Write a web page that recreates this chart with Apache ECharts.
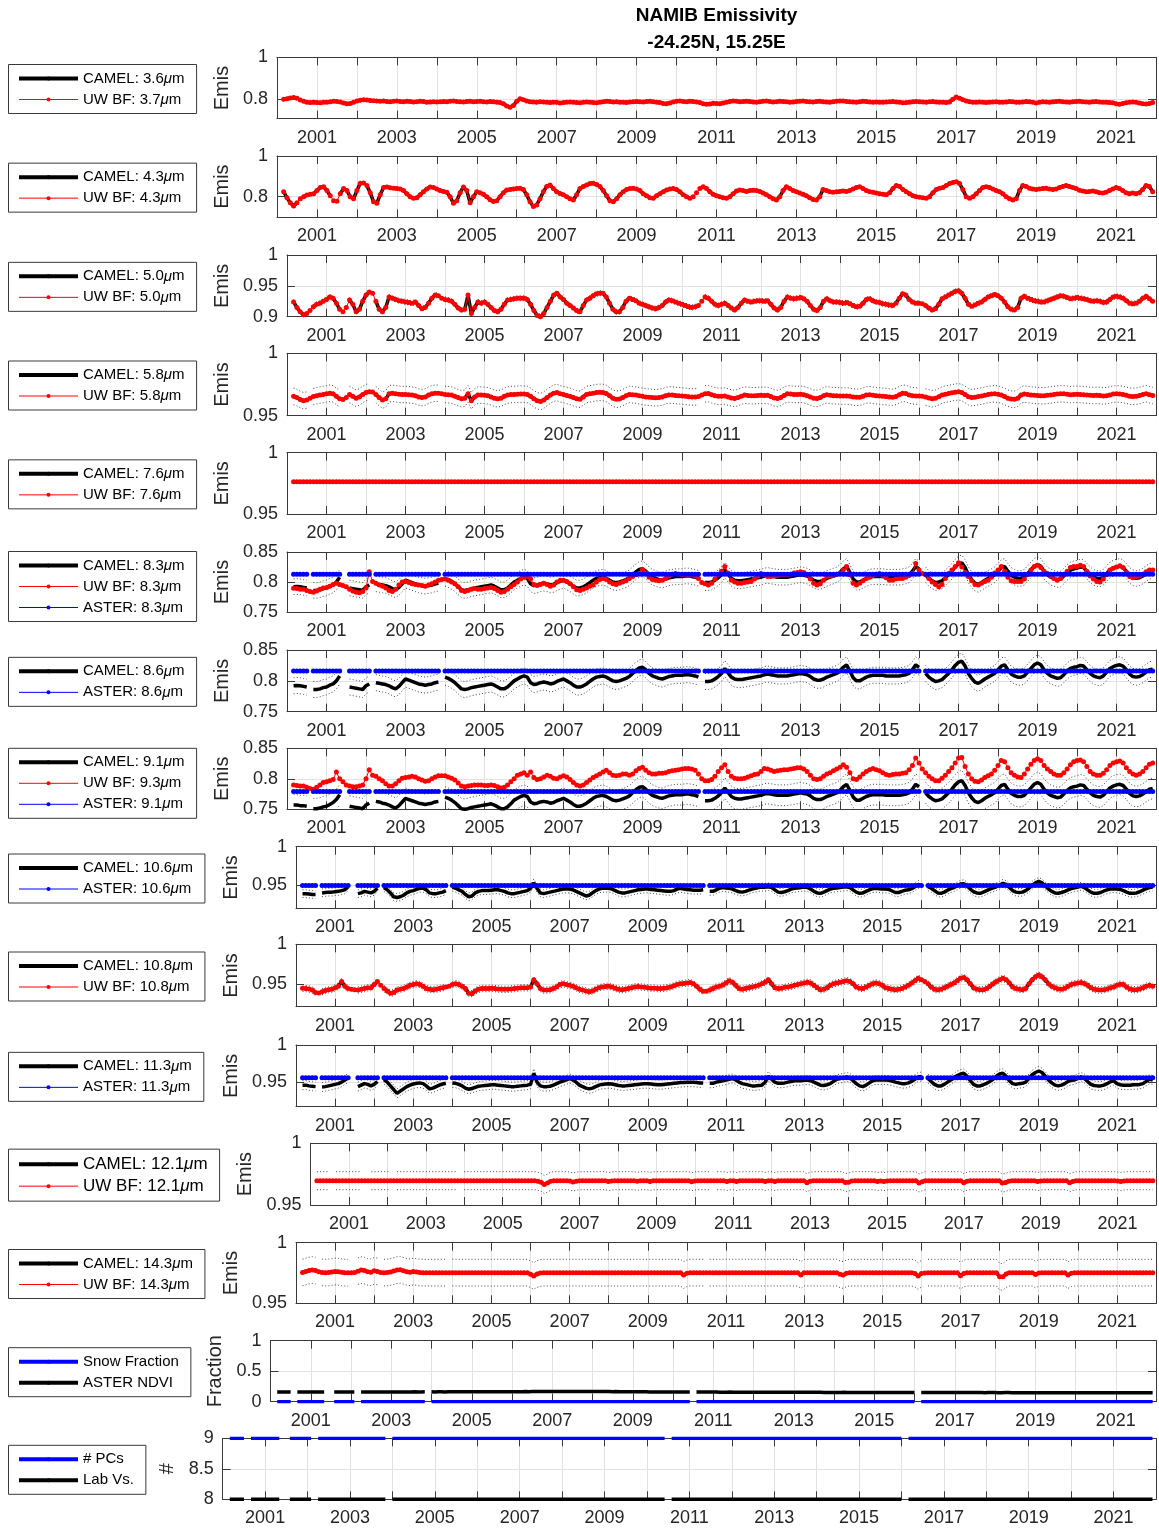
<!DOCTYPE html>
<html><head><meta charset="utf-8">
<script src="https://cdn.jsdelivr.net/npm/echarts@6/dist/echarts.min.js"></script>
<style>html,body{margin:0;padding:0;background:#fff}#c{width:1159px;height:1530px}</style>
</head><body><div id="c"></div><script>
// ---------------- DATA ----------------
// monthly time base: Mar 2000 .. Dec 2021
const firstYear = 2000, firstMonth = 3, monthCount = 262;
const missingMonths = ['2000-08','2001-06','2001-07','2002-03','2003-12','2010-07','2016-02'];
const yearLabels = [2001,2003,2005,2007,2009,2011,2013,2015,2017,2019,2021];
const yTicks = [[0.8,1],[0.8,1],[0.9,0.95,1],[0.95,1],[0.95,1],[0.75,0.8,0.85],[0.75,0.8,0.85],[0.75,0.8,0.85],
  [0.95,1],[0.95,1],[0.95,1],[0.95,1],[0.95,1],[0,0.5,1],[8,8.5,9]];
const yRanges = [[0.707,1],[0.699,1],[0.9,1],[0.95,1],[0.95,1],[0.75,0.85],[0.75,0.85],[0.75,0.85],
  [0.92,1],[0.921,1],[0.917,1],[0.95,1],[0.95,1],[0,1],[8,9]];

// emissivity values in thousandths, one row per year
const uw37 = [
800,802,806,808,804,796,790,786,784,785,
784,783,785,786,788,790,789,787,782,778,780,786,
792,795,797,796,794,793,792,790,791,789,788,790,
791,789,788,790,789,787,788,790,789,786,787,788,
787,788,789,788,790,791,789,788,787,789,790,788,
789,790,788,787,789,788,786,784,778,768,762,770,
790,802,798,792,788,787,786,788,787,785,784,786,
785,782,784,786,787,785,784,783,785,787,786,784,
783,786,788,790,789,787,788,786,785,784,787,788,
789,788,787,789,790,788,786,784,780,778,782,787,
790,791,789,788,790,789,787,784,778,776,777,781,
779,778,782,786,789,791,790,788,789,790,789,787,
786,788,790,791,789,787,788,790,789,788,786,787,
789,790,791,789,788,787,789,790,788,787,786,788,
790,792,791,789,788,787,786,788,790,789,787,786,
787,786,785,787,788,789,787,785,783,784,786,788,
789,788,787,786,788,789,787,786,785,784,787,800,
810,805,798,792,788,786,785,787,786,784,785,787,
788,786,785,787,789,788,786,785,787,789,788,786,
782,786,788,787,786,788,789,790,788,787,786,788,
789,790,788,787,786,788,789,787,786,785,784,783,
778,776,779,783,786,787,785,782,778,777,780,784];
const uw43 = [
825,795,770,755,770,790,800,808,812,815,
830,845,849,830,805,780,778,815,840,830,800,790,
830,866,868,855,820,775,768,810,845,848,844,842,
841,838,830,815,800,792,795,810,825,838,848,845,
838,830,826,822,800,768,780,820,848,830,770,800,
825,820,812,800,785,776,780,800,820,833,836,838,
840,842,835,810,775,752,760,790,825,850,857,840,
825,816,810,800,790,784,810,841,850,858,865,866,
860,850,830,805,780,775,790,810,825,835,841,842,
838,830,815,805,795,792,805,815,825,833,838,841,
835,825,810,800,792,800,820,840,849,840,825,812,
805,800,795,792,800,815,828,833,830,826,830,832,
830,826,818,810,800,790,784,800,830,849,840,830,
825,818,812,805,795,786,784,800,835,830,825,822,
825,826,828,826,830,838,845,849,840,830,825,822,
818,815,812,810,820,840,855,850,835,825,815,805,
800,798,795,792,800,820,835,842,845,855,865,870,
874,865,835,800,792,800,815,830,845,849,845,838,
830,825,815,800,790,784,790,830,855,850,842,838,
835,838,840,842,838,835,838,845,850,855,850,845,
840,832,828,825,826,828,825,820,818,822,830,838,
845,840,830,820,815,818,815,820,835,855,850,825];
const uw50 = [
924,915,908,903,905,910,916,920,922,925,
928,932,930,922,912,908,915,927,920,908,912,925,
935,940,938,925,912,908,915,932,930,928,926,925,
924,923,922,924,918,913,915,922,930,935,934,930,
928,927,925,920,914,911,912,935,905,915,924,922,
924,920,915,910,908,912,920,927,928,929,930,930,
930,928,920,910,902,900,905,915,925,935,938,932,
928,922,918,914,910,908,918,927,930,934,937,938,
938,932,922,912,908,908,915,925,930,928,926,922,
920,918,916,914,913,915,918,924,927,926,924,922,
920,918,916,915,916,918,925,932,930,925,920,918,
920,922,918,914,911,915,922,927,925,924,925,926,
926,925,926,920,914,911,915,925,932,930,929,930,
931,929,925,918,912,910,915,925,929,926,924,924,
923,922,923,921,918,916,917,922,928,929,926,924,
923,921,920,919,918,922,930,937,935,928,924,922,
922,921,918,914,911,913,920,929,932,935,938,941,
942,938,930,920,917,919,922,924,928,932,934,936,
934,930,924,916,912,911,915,930,933,930,928,926,
925,924,924,926,928,930,932,934,933,931,929,930,
931,930,929,928,926,925,926,925,923,924,928,932,
933,932,930,926,922,921,922,925,930,933,929,925];
const uw58 = [
965.5,964.5,963,962,962.5,964,965.3,966,966.5,967,
967.5,968,967.5,965.5,963.5,963,964.5,967,965.5,964,965,967,
968.5,969.2,969,967,964.5,962.5,963.5,967.5,968,967.5,967.2,967,
967,966.8,966.5,966,965,964.5,965,966.5,967.5,968,968,967.5,
967,966.8,966.5,965.5,964.5,963.5,964,967.5,962,965,966.5,966.5,
966.3,966,965,964,963.5,964,965.5,966.5,967,967,967.2,967.3,
967.3,967,965.5,963.5,962,961.3,962.5,964.5,966.5,968,968.6,967.5,
967,966.2,965.5,964.5,963.5,963.2,965,967,967.5,968,968.5,968.7,
968.6,967.8,966,964,963.2,963.3,964.5,966,967,966.8,966.5,966,
965.5,965,964.8,964.5,964.3,964.6,965,966,966.6,966.5,966.2,966,
965.8,965.5,965.2,965,965,965.3,966.5,967.5,967.7,966.8,966,965.5,
965.5,965.7,965,964.2,963.8,964.5,965.6,966.5,966.2,966,966,966.2,
966.3,966.2,966.3,965.4,964.2,963.8,964.6,966.2,967.5,967.3,967,967,
967.2,966.8,966,965,964,963.8,964.5,966,966.8,966.3,966,966,
965.8,965.7,965.8,965.5,965,964.7,964.8,965.6,966.6,966.8,966.3,966,
965.8,965.5,965.3,965,964.7,965.4,966.8,968,967.8,966.6,966,965.7,
965.7,965.5,965,964.2,963.6,964,965.2,966.6,967.2,967.8,968.3,968.8,
969.2,968.5,967,965.2,964.5,964.8,965.3,965.7,966.4,967,967.3,967.6,
967.2,966.5,965.4,964,963.3,963.2,964,966.6,967.4,967,966.6,966.3,
966.2,966,966,966.3,966.6,967,967.3,967.6,967.5,967.2,966.8,967,
967.2,967,966.8,966.6,966.3,966.2,966.3,966.2,965.8,966,966.6,967.3,
967.5,967.3,967,966.3,965.6,965.4,965.6,966.2,967,967.6,966.8,966.2];
const uw83 = [
789.5,789,788,788,786,784,783,785,788,790,
791,793,796,798,796,794,792,788,785,783,782,784,
790,817,801,798,795,793,790,786,784,788,795,800,
801,799,797,796,795,794,793,795,797,800,803,804,
805,803,800,797,792,786,784,786,788,789,788,788,
789,790,791,789,786,783,784,788,792,796,800,805,
808,809,805,796,794,796,798,796,793,795,800,803,
803,801,797,792,787,786,788,790,793,795,800,804,
806,804,800,797,796,798,800,802,806,809,812,814,
821,815,808,804,803,802,803,806,810,813,814,813,
812,812,811,812,810,806,799,797,795,798,805,812,
818,826,815,803,800,798,798,799,800,801,805,810,
814,812,809,809,810,811,812,812,812,813,815,816,
817,816,812,805,798,795,797,803,809,810,811,813,
814,820,826,812,798,795,798,802,806,808,811,813,
814,811,807,803,803,805,806,806,808,811,814,831,
820,814,812,806,800,796,792,796,806,814,820,826,
832,825,816,809,802,796,795,798,801,803,808,815,
820,826,818,808,802,801,801,801,805,812,820,826,
828,824,818,814,810,806,803,806,812,818,824,826,
826,828,826,818,810,805,801,800,805,812,820,823,
825,827,824,816,809,807,809,810,813,817,820,820];
const camel86 = [
792,792.5,792,791,790,null,786,786,787,789,
790,793,795,800,808,null,null,790,789,788,787,786,
792,795,null,797,796,795,794,792,789,787,791,797,
803,801,799,797,795,794,793,794,795,797,798,null,
806,804,801,797,792,787,786,787,789,790,791,792,
793,794,795,793,790,787,787,790,795,800,803,806,
808,806,797,794,795,797,798,797,795,796,799,801,
803,800,797,793,790,790,792,795,799,803,806,807,
808,806,803,800,799,800,802,804,807,812,817,821,
822,818,812,808,806,804,803,805,807,808,809,809,
809,810,810,809,808,806,null,799,799,800,803,807,
812,820,813,806,803,802,802,803,804,805,806,807,
808,810,811,810,809,808,808,808,808,809,810,811,
812,811,810,807,803,801,801,803,806,808,810,812,
816,822,826,816,805,800,800,803,806,808,809,809,
809,809,808,808,808,808,808,809,810,812,818,826,
822,null,812,806,802,799,800,802,807,812,818,825,
830,832,824,812,804,798,796,799,803,806,809,812,
818,824,826,818,811,808,806,806,808,814,820,826,
829,826,818,812,808,806,804,805,810,816,820,822,
823,825,824,818,812,808,806,805,808,814,820,823,
825,826,824,818,811,807,806,807,810,814,818,819];
const camel91 = [
757,757,756,756,755,null,751,751,752,754,
755,758,761,766,774,null,null,755,754,753,752,751,
757,760,null,763,762,760,759,757,754,752,756,762,
768,766,764,762,760,759,758,759,760,762,763,null,
770,768,765,761,756,751,750,751,753,754,755,756,
757,758,759,757,754,751,751,754,759,765,768,771,
773,771,762,759,760,762,763,762,760,761,764,766,
768,765,762,758,755,755,757,760,764,768,771,772,
773,771,768,765,764,765,767,769,772,777,782,786,
787,783,777,773,771,769,768,770,772,773,774,774,
774,775,775,774,773,771,null,764,764,765,768,772,
777,785,778,771,768,767,767,768,769,770,771,772,
773,775,776,775,774,773,773,773,773,774,775,776,
777,776,775,772,768,766,766,768,771,773,775,777,
781,787,791,781,770,765,765,768,771,773,774,774,
774,774,773,773,773,773,773,774,775,777,783,791,
787,null,777,771,767,764,765,767,772,777,783,790,
795,797,789,777,769,763,761,764,768,771,774,777,
783,789,791,783,776,773,771,771,773,779,785,791,
794,791,783,777,773,771,769,770,775,781,785,787,
788,790,789,783,777,773,771,770,773,779,785,788,
790,791,789,783,776,772,771,772,775,779,783,784];
const uw93 = [
790,789,788,788,786,784,783,786,790,794,
795,797,799,811,800,795,790,788,787,787,788,790,
800,815,806,804,800,797,792,788,788,792,797,801,
802,803,804,803,800,798,796,797,800,803,805,805,
805,803,801,798,793,788,787,788,789,790,790,790,
789,789,790,789,787,785,786,790,795,800,806,808,
810,806,811,802,799,800,803,806,804,801,800,803,
805,803,799,794,790,788,790,794,798,802,805,808,
811,814,810,806,805,806,808,808,806,808,813,817,
819,814,810,808,808,809,809,810,812,813,814,815,
816,817,817,816,814,808,800,797,797,799,804,812,
818,823,812,804,801,800,800,801,803,805,807,808,
812,817,816,814,812,813,814,815,815,816,817,818,
818,816,812,806,800,799,800,804,808,810,813,816,
819,823,819,810,800,799,803,808,812,815,817,815,
813,810,807,806,807,808,808,809,810,815,822,834,
826,816,810,804,800,797,797,801,806,812,818,826,
834,835,820,808,800,796,795,798,802,805,808,814,
822,830,828,818,810,806,803,802,808,816,824,830,
833,830,822,816,812,808,806,806,810,816,823,828,
830,831,828,820,812,808,806,806,809,815,822,826,
828,829,826,818,812,808,806,808,812,818,824,826];
const camel106 = [
939,939,938.5,938,938,null,940,940.5,941,941,
941.5,942,943,944,948,null,null,939,940,942,941,940,
942,946,null,947,944,940,935,934,935,937,940,942,
943,944.5,946,946,944,940,939,939,940,941,943,null,
947.5,946,944,942,938,935,936,940,942,943,943,943,
943.5,944,944,943,942,940,939,939,940,941,942,943,
946,953,946,940,939,940,941,942,943,944,945,945,
945,944,942,940,938,936,937,940,943,945,946,946,
946,945,943,941,940,940,941,942,943,944,944.5,945,
945,944.5,944,943.5,943,942.5,942,942,943,945,946,945,
944.5,944,943.5,943.5,943.5,944,null,942,942,944,946,947,
946.5,946,945,943,941.5,941,942,943.5,945,946,947,947.5,
947.5,948,947,944,941,940.5,941.5,943,945,946,946.5,947,
947.5,947,945,942,940,939.5,941,943,945,946,946.5,947,
947.5,948,947,944,941,939.5,940,942,944,945.5,946,945.5,
945,945,944.5,942.5,940.5,940.5,942,943.5,944,945.5,948,951,
950,null,948,946,943,940,939.5,941,943.5,945.5,947,949,
951.5,952,949,945,941.5,940,939.5,941,943,945,946.5,948,
950,952.5,951,947,943,941,940.5,941,943,946,950,953,
955,953,949,945,942,940,939.5,940.5,942,944,945.5,946.5,
947.5,948.5,947,944,941,939.5,939.5,940.5,942.5,944,945,945.5,
945,944.5,943,941,939.5,939.5,940,941.5,943.5,945.5,947,947.5];
const uw108 = [
944.5,944,943.5,942,939,938.5,940,941.5,942.5,943,
945,947,953,947,944,943,942.5,942,943,944,945,945,
949,953,948,944,941,938,939,942,943,944,946,948,
949,950,949,947,944,943,942.5,943,944,945,946,947,
949,950,949,947,944,938,937.5,941,943,944,944,944,
944.5,944,943.5,943,943,943,943.5,944,944.5,945,945,945,
946,955,950,944,942,942,942.5,944,946,949,950,949,
948,947,945,943,942,941,940,941,943,945,946,946.5,
947,946,944.5,943,942.5,943,944,945,946,946.5,946,945.5,
945,944.5,944.5,944,944,944.5,945,946,947.5,949,950,950.5,
951,951.5,950,947,943,940.5,940.5,942,944,946,947,948.5,
951,954,952,948,944,943,944,945,946,947,948,950,
952,955,950,945,944,944.5,945.5,946,947,948,949,950,
951,952,951,948,945,942.5,943,945,948,950,951,952,
953,954,953,950,946,944.5,944,946,948,950,951,950,
948,945,944,943,942.5,943,944,946,948,951,954,957,
955,953,950,946,943,942.5,943,945,947,949,951,954,
957,958,955,950,945,943,942.5,942.5,944,947,950,953,
955,957,955,951,946,944,943,942.5,944,950,955,959,
961,959,955,950,947,945,943.5,943,944.5,947,949,950,
951,951.5,950.5,948,945,943,942.5,942,942.5,943.5,945,946,
948,949.5,949,946,943.5,942.5,942.5,943.5,945,947,948,947];
const camel113 = [
946,946,945,944.5,944,null,943.5,944,945,946,
947,948,950,953,955.5,null,null,944,946,948,947,945,
947,951,null,953.5,950,945,940,935,938,941,944,946,
947.5,948.5,949,948,945,941,942,944,946,947.5,948.5,null,
949,948.5,947,945,942,940.5,941.5,943,944.5,945,945.5,946,
946.5,946.5,946,945.5,945,944.5,944,944,944.5,945,945.5,946,
947,962,950,945,944,944,944.5,946,948,950,951.5,953,
955,953,950,946,944,942,941,942,944,946,947,947.5,
948,947.5,946.5,945.5,945,945,945.5,946,946.5,947,947.5,948,
948,947.5,947,946.5,946.5,947,947.5,948,948.5,949,949.5,949.5,
950,950,950,949.5,949,949,null,948.5,948.5,950,951,952,
953,954,955,953,950,948,947,946,945,945,945.5,946,
950,958,954,950,948.5,948.5,949,950,951,952,952,952,
952.5,953,952,950,948,946,945.5,946.5,948,951,954,955,
955.5,957,956,952,948,945,944,946,949,952,953,953,
953,953,952.5,951.5,950,949,948,948,949,951,954,957,
957.5,null,955,951,947,945,945,947,950,953,956,959,
961,962,958,952,947,945,945,946.5,948.5,951,954,958,
961,962,958,952,948,947,948,948.5,950,955,960,963,
965,963,958,953,949,946,945,946,948,951,952.5,953,
955,957,955,951,947,945.5,945,945,946,948,950.5,952,
948,946.5,946,946,946,946.5,946.5,947,948,951,954,953];
const uw121 = [
969.7,969.7,969.7,969.7,969.7,969.7,969.7,969.7,969.7,969.7,
969.7,969.7,969.7,969.7,969.7,969.7,969.7,969.7,969.7,969.7,969.7,969.7,
969.7,969.7,969.7,969.7,969.7,969.7,969.7,969.7,969.7,969.7,969.7,969.7,
969.7,969.7,969.7,969.7,969.7,969.7,969.7,969.7,969.7,969.7,969.7,969.7,
969.7,969.7,969.7,969.7,969.7,969.7,969.7,969.7,969.7,969.7,969.7,969.7,
969.7,969.7,969.7,969.7,969.7,969.7,969.7,969.7,969.7,969.7,969.7,969.2,
968.4,966.6,967.8,969.3,969.7,969.7,969.7,969.7,969.7,969.4,968.6,969.3,
969.7,969.7,969.7,969.7,969.7,969.7,969.7,969.7,969.7,969.0,969.4,969.7,
969.7,969.7,969.7,969.7,969.7,969.7,969.2,969.7,969.7,969.7,969.1,969.6,
969.7,969.7,969.7,969.7,969.7,969.7,969.7,969.7,969.7,969.7,969.7,968.9,
969.5,969.7,969.7,969.7,969.7,969.7,969.7,969.7,969.7,969.7,969.0,969.6,
969.6,969.0,969.6,969.7,969.7,969.7,969.7,969.7,969.7,969.7,969.0,969.6,
969.6,969.0,969.6,969.7,969.7,969.7,969.7,969.7,969.7,969.7,969.7,968.0,
969.3,969.7,969.7,969.7,969.7,969.7,969.7,969.7,969.7,969.7,969.7,968.2,
968.5,969.5,969.7,969.7,969.7,969.7,969.7,969.7,969.7,969.0,969.5,969.0,
969.4,969.7,969.7,969.7,969.7,969.7,969.7,969.7,969.7,969.7,967.8,968.9,
969.7,969.7,969.7,969.7,969.7,969.7,969.7,969.7,969.7,969.7,969.7,969.7,
968.0,969.3,969.7,969.7,969.7,969.7,969.7,969.7,969.7,969.7,969.7,969.7,
967.8,968.2,969.3,969.7,969.7,969.7,969.7,969.7,969.7,969.7,969.7,969.0,
969.5,969.7,969.7,969.7,969.7,969.7,969.7,969.7,969.7,968.0,969.0,969.6,
969.7,969.7,969.7,969.7,969.7,969.7,969.7,969.7,969.7,969.7,969.7,969.7,
969.5,969.0,969.5,969.7,969.7,969.7,969.7,969.7,969.7,969.7,969.7,969.7];
const uw143 = [
975.4,976.2,977.0,977.4,977.0,976.0,975.5,975.3,975.4,975.8,
976.2,976.0,975.6,975.3,975.2,975.3,975.5,976.5,977.4,977.0,976.0,975.6,
976.8,976.2,975.5,975.3,975.4,975.8,976.6,977.4,977.6,976.8,976.0,975.6,
976.2,975.8,975.4,975.3,975.3,975.3,975.3,975.3,975.3,975.3,975.3,975.3,
975.3,975.3,975.3,975.3,975.3,975.3,975.3,975.3,975.3,975.3,975.3,975.3,
975.3,975.3,975.3,975.3,975.3,975.3,975.3,975.3,975.3,975.3,975.3,975.3,
974.0,972.5,974.2,975.0,975.3,975.3,975.3,975.3,975.3,975.3,975.3,975.3,
975.3,975.3,975.3,975.3,975.3,975.3,975.3,975.3,975.3,975.3,975.3,975.3,
975.3,975.3,975.3,975.3,975.3,975.3,975.3,975.3,975.3,975.3,975.3,975.3,
975.3,975.3,975.3,975.3,975.3,975.3,975.3,975.3,975.3,975.3,975.3,973.3,
974.8,975.3,975.3,975.3,975.3,975.3,975.3,975.3,975.3,975.3,975.3,975.3,
975.3,975.3,975.3,975.3,975.3,975.3,975.3,975.3,975.3,975.3,975.3,975.3,
975.3,975.3,975.3,975.3,975.3,975.3,975.3,975.3,975.3,975.3,975.3,973.3,
975.3,975.3,975.3,975.3,975.3,975.3,975.3,975.3,975.3,975.3,975.3,974.0,
973.3,974.8,975.3,975.3,975.3,975.3,975.3,975.3,975.3,975.3,975.3,975.3,
975.3,975.3,975.3,975.3,975.3,975.3,975.3,975.3,975.3,975.3,974.5,972.5,
974.5,975.0,975.3,975.3,975.3,975.3,975.3,975.3,975.3,975.3,975.3,975.3,
972.8,974.6,975.3,975.3,975.3,975.3,975.3,975.3,975.3,975.3,975.3,975.3,
971.9,971.9,974.2,975.3,975.3,975.3,975.3,975.3,975.3,975.3,975.3,973.8,
975.0,975.3,975.3,975.3,975.3,975.3,975.3,975.3,975.3,973.3,974.8,975.3,
975.3,975.3,975.3,975.3,975.3,975.3,975.3,975.3,975.3,975.3,975.3,975.3,
975.3,975.3,975.3,975.3,975.3,975.3,975.3,975.3,975.3,975.3,975.3,975.3];
const asterNdvi = [
160,160,161,160,159,160,161,160,160,161,
161,160,160,159,160,161,160,160,161,160,160,161,
160,159,159,160,160,159,160,161,160,160,161,161,
161,160,160,161,161,160,161,162,161,161,162,162,
162,161,162,162,161,162,162,163,162,162,163,163,
163,163,162,163,164,163,163,164,164,163,164,165,
165,164,165,165,166,165,166,166,167,166,167,167,
168,167,168,168,167,168,168,169,168,168,167,168,
167,167,166,167,166,166,165,166,165,165,164,164,
164,163,163,162,162,161,161,161,160,160,160,159,
159,159,158,158,158,158,157,157,157,157,157,157,
157,157,156,156,156,157,156,156,156,156,156,155,
155,155,155,156,155,155,155,154,154,154,154,154,
154,154,153,153,154,153,153,153,153,152,152,152,
152,152,152,153,152,152,152,151,151,152,151,151,
151,151,151,151,150,150,151,150,150,150,150,150,
150,150,150,150,149,150,150,149,149,149,150,149,
149,149,149,150,149,149,149,149,149,148,149,149,
149,148,148,149,149,148,148,148,148,148,148,148,
148,148,148,148,147,148,148,148,147,147,148,148,
148,147,147,148,148,147,147,147,148,147,147,147,
147,147,147,148,147,147,147,147,147,146,147,147];
// series read as identical to another one in the picture (drawn beneath it)
const camel36 = uw37, camel43 = uw43, camel50 = uw50, camel58 = uw58, camel83 = camel86,
      camel108 = uw108, camel121 = uw121, camel143 = uw143;
// static values (ASTER GED is a fixed climatology; flat series)
const uw76 = 0.9763, camel76 = 0.9763;
const aster83 = 0.813, aster86 = 0.816, aster91 = 0.779, aster106 = 0.9495, aster113 = 0.956;
const snowFraction = 0, numPCs = 9, labVs = 8;
// CAMEL uncertainty (dotted lines) per emissivity panel
const camelUnc = [0.004, 0.006, 0.004, 0.0066, 0, 0.013, 0.013, 0.017, 0.005, 0.004, 0.006, 0.0073, 0.011];

// ---------------- BUILD ----------------
const monthX = [], monthKey = [];
for (let i = 0; i < monthCount; i++) {
  const t = firstMonth - 1 + i, y = firstYear + Math.floor(t / 12), m = t % 12 + 1;
  monthX.push(y + (m - 1) / 12);
  monthKey.push(y + '-' + String(m).padStart(2, '0'));
}
const missing = new Set(missingMonths);
const gapAt = i => missing.has(monthKey[i]);
const th = v => (v == null ? null : v / 1000);
const lineData = (arr, gaps) => arr.map((v, i) => [monthX[i], (gaps && gapAt(i)) ? null : th(v)]);
const flatData = (val, gaps) => monthX.map((x, i) => [x, (gaps && gapAt(i)) ? null : val]);

const FONT = '"Liberation Sans", Arial, Helvetica, sans-serif';
const TXT = '#262626', AX = '#3a3a3a', GRID = '#e2e2e2';
const RIGHT = 1156;
const layout = [
  {L:277, T:57.3, B:118.7, gap:43},
  {L:277, T:156, B:217.3, gap:43},
  {L:287, T:255, B:316.7, gap:54},
  {L:287, T:353.3, B:415.7, gap:54},
  {L:287, T:452.7, B:514, gap:54},
  {L:287, T:552, B:612, gap:55},
  {L:287, T:650, B:711.7, gap:55},
  {L:287, T:748.3, B:809.3, gap:55},
  {L:296, T:846.7, B:908.3, gap:55},
  {L:296, T:944.3, B:1006.7, gap:55},
  {L:296, T:1045, B:1106.7, gap:55},
  {L:310.5, T:1143.3, B:1205, gap:54.5, big:true},
  {L:296, T:1242.7, B:1303.3, gap:54},
  {L:270.5, T:1340.7, B:1401.7, gap:44, name:'Fraction'},
  {L:222.7, T:1438.3, B:1499.3, gap:44, name:'#'}
];
const emisPanels = [
  {camel:['CAMEL: 3.6μm', lineData(camel36, true)], uw:['UW BF: 3.7μm', lineData(uw37)]},
  {camel:['CAMEL: 4.3μm', lineData(camel43, true)], uw:['UW BF: 4.3μm', lineData(uw43)]},
  {camel:['CAMEL: 5.0μm', lineData(camel50, true)], uw:['UW BF: 5.0μm', lineData(uw50)]},
  {camel:['CAMEL: 5.8μm', lineData(camel58, true)], uw:['UW BF: 5.8μm', lineData(uw58)]},
  {camel:['CAMEL: 7.6μm', flatData(camel76, true)], uw:['UW BF: 7.6μm', flatData(uw76)]},
  {camel:['CAMEL: 8.3μm', lineData(camel83, true)], uw:['UW BF: 8.3μm', lineData(uw83)], aster:['ASTER: 8.3μm', flatData(aster83, true)]},
  {camel:['CAMEL: 8.6μm', lineData(camel86, true)], aster:['ASTER: 8.6μm', flatData(aster86, true)]},
  {camel:['CAMEL: 9.1μm', lineData(camel91, true)], uw:['UW BF: 9.3μm', lineData(uw93)], aster:['ASTER: 9.1μm', flatData(aster91, true)]},
  {camel:['CAMEL: 10.6μm', lineData(camel106, true)], aster:['ASTER: 10.6μm', flatData(aster106, true)]},
  {camel:['CAMEL: 10.8μm', lineData(camel108, true)], uw:['UW BF: 10.8μm', lineData(uw108)]},
  {camel:['CAMEL: 11.3μm', lineData(camel113, true)], aster:['ASTER: 11.3μm', flatData(aster113, true)]},
  {camel:['CAMEL: 12.1μm', lineData(camel121, true)], uw:['UW BF: 12.1μm', lineData(uw121)]},
  {camel:['CAMEL: 14.3μm', lineData(camel143, true)], uw:['UW BF: 14.3μm', lineData(uw143)]}
];

const grids = [], xAxes = [], yAxes = [], series = [], legends = [];
const yFmt = v => String(Math.round(v * 1000) / 1000);
layout.forEach((p, i) => {
  grids.push({left:p.L, top:p.T, width:RIGHT - p.L, height:p.B - p.T});
  const xBase = {gridIndex:i, type:'value', min:2000, max:2022, interval:1,
    axisLine:{show:true, onZero:false, lineStyle:{color:AX, width:1}},
    axisTick:{show:true, inside:true, length:8, lineStyle:{color:AX, width:1}}};
  xAxes.push(Object.assign({}, xBase, {position:'bottom',
    axisLabel:{show:true, margin:10, fontSize:18, lineHeight:18, fontFamily:FONT, color:TXT,
      formatter: v => (yearLabels.indexOf(Math.round(v)) >= 0 ? String(Math.round(v)) : '')},
    splitLine:{show:true, lineStyle:{color:GRID, width:1}}}));
  xAxes.push(Object.assign({}, xBase, {position:'top', axisLabel:{show:false}, splitLine:{show:false}}));
  const yt = yTicks[i], yr = yRanges[i];
  const yBase = {gridIndex:i, type:'value', min:yr[0], max:yr[1],
    axisLine:{show:true, onZero:false, lineStyle:{color:AX, width:1}},
    axisTick:{show:true, inside:true, length:8, customValues:yt, lineStyle:{color:AX, width:1}}};
  yAxes.push(Object.assign({}, yBase, {position:'left', name:p.name || 'Emis', nameLocation:'middle',
    nameRotate:90, nameGap:p.gap, nameTextStyle:{fontSize:20, lineHeight:20, fontFamily:FONT, color:TXT},
    axisLabel:{show:true, customValues:yt, margin:9, fontSize:18, fontFamily:FONT, color:TXT, formatter:yFmt},
    splitLine:{show:true, lineStyle:{color:GRID, width:1}}}));
  yAxes.push(Object.assign({}, yBase, {position:'right', axisLabel:{show:false}, splitLine:{show:false}}));
});

function addLine(i, name, data, color, width, z) {
  series.push({type:'line', name, xAxisIndex:2*i, yAxisIndex:2*i, data, symbol:'none', showSymbol:false,
    connectNulls:false, lineStyle:{color, width}, itemStyle:{color}, z, silent:true});
}
function addDots(i, name, data, color) {
  series.push({type:'line', name, xAxisIndex:2*i, yAxisIndex:2*i, data, symbol:'circle', symbolSize:5,
    showSymbol:true, connectNulls:false, lineStyle:{color, width:1}, itemStyle:{color}, z:4, silent:true});
}
function addBounds(i, data, unc) {
  ['+', '-'].forEach(s => {
    series.push({type:'line', name:'_unc' + i + s, xAxisIndex:2*i, yAxisIndex:2*i, symbol:'none', showSymbol:false,
      data: data.map(d => [d[0], d[1] == null ? null : (s === '+' ? d[1] + unc : d[1] - unc)]),
      lineStyle:{color:'#444', width:1, type:[1, 2.2]}, z:3, silent:true});
  });
}
function addLegend(i, items, big) {
  const p = layout[i], n = items.length;
  const fs = big ? 17 : 15, lh = big ? 16 : 14, gap = big ? 5 : 6;
  const h = 13 + n * lh + (n - 1) * gap;
  const center = (p.T + p.B) / 2 + (n === 3 ? 3 : 0);
  legends.push({left:8.5, top:center - h / 2, orient:'vertical', selectedMode:false,
    itemWidth:59, itemHeight:5, itemGap:gap, padding:[6.5, 12, 6.5, 8.5],
    borderColor:'#3a3a3a', borderWidth:1, backgroundColor:'#fff',
    data: items.map(it => ({name:it[0], lineStyle:{width:it[1]}})),
    formatter: nm => nm.replace('μ', '{mu|μ}'),
    textStyle:{fontSize:fs, lineHeight:lh, fontFamily:FONT, color:'#000',
      rich:{mu:{fontSize:fs, lineHeight:lh, fontFamily:FONT, fontStyle:'italic', color:'#000'}}}});
}

emisPanels.forEach((pp, i) => {
  const items = [];
  addLine(i, pp.camel[0], pp.camel[1], '#000', 3.5, 2); items.push([pp.camel[0], 4]);
  if (camelUnc[i] > 0) addBounds(i, pp.camel[1], camelUnc[i]);
  if (pp.uw) { addDots(i, pp.uw[0], pp.uw[1], '#ff0000'); items.push([pp.uw[0], 1]); }
  if (pp.aster) { addDots(i, pp.aster[0], pp.aster[1], '#0000ff'); items.push([pp.aster[0], 1]); }
  addLegend(i, items, layout[i].big);
});
// panel 14: fractions
addLine(13, 'Snow Fraction', flatData(snowFraction, true), '#0000ff', 3.5, 3);
addLine(13, 'ASTER NDVI', lineData(asterNdvi, true), '#000', 3.5, 2);
addLegend(13, [['Snow Fraction', 4], ['ASTER NDVI', 4]]);
// panel 15: counts
addLine(14, '# PCs', flatData(numPCs, true), '#0000ff', 3.5, 3);
addLine(14, 'Lab Vs.', flatData(labVs, true), '#000', 3.5, 2);
addLegend(14, [['# PCs', 4], ['Lab Vs.', 4]]);

const graphic = [
  {type:'text', x:716.5, y:16, style:{text:'NAMIB Emissivity', font:'bold 19px ' + FONT, fill:'#000', textAlign:'center', textVerticalAlign:'middle'}},
  {type:'text', x:716.5, y:43, style:{text:'-24.25N, 15.25E', font:'bold 19px ' + FONT, fill:'#000', textAlign:'center', textVerticalAlign:'middle'}}
];

const chart = echarts.init(document.getElementById('c'), null, {renderer:'canvas'});
chart.setOption({animation:false, backgroundColor:'#fff', grid:grids, xAxis:xAxes, yAxis:yAxes,
  series, legend:legends, graphic});
</script></body></html>
